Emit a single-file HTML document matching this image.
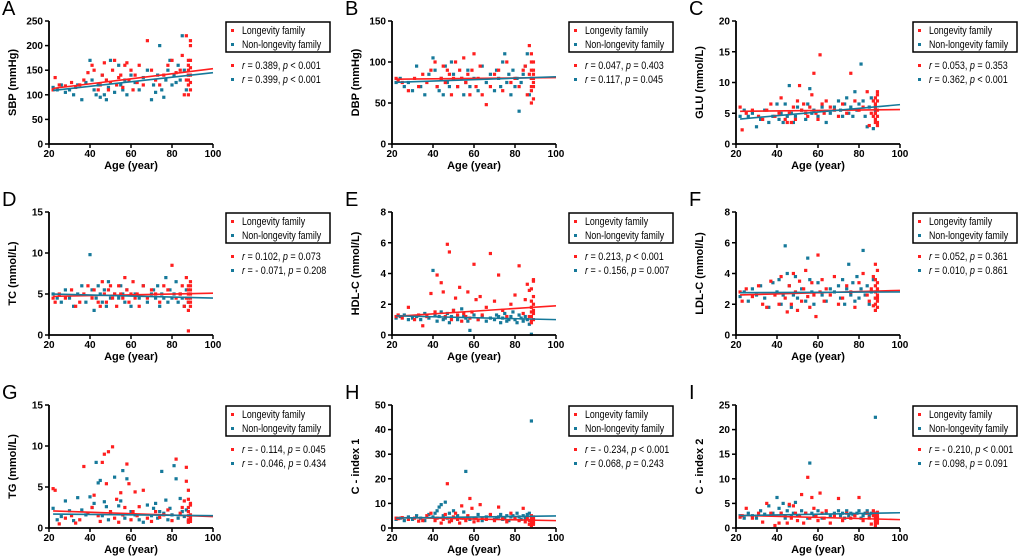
<!DOCTYPE html>
<html><head><meta charset="utf-8"><style>
html,body{margin:0;padding:0;background:#fff;}
svg{display:block;font-family:"Liberation Sans",Arial,sans-serif;}
</style></head><body>
<svg id="fig" width="1020" height="558" viewBox="0 0 1020 558" xmlns="http://www.w3.org/2000/svg"></svg>
<script>
const L_AGE=[22,23,25,28,31,33,35,37,39,41,42,44,45,46,47,48,49,50,51,52,53,54,55,56,57,58,59,60,61,62,63,64,66,68,70,72,74,76,78,80,82,84,85,86,87,87,88,88,88,88,88,88,88,89,89,89,89,89,89,89];
const N_AGE=[22,24,26,28,30,32,34,36,38,40,41,42,43,44,45,46,47,48,49,50,52,54,55,56,57,58,60,62,64,66,68,70,71,72,73,74,75,76,77,78,79,80,81,82,83,84,85,86,87,88];
const X_TICKS=[20,40,60,80,100];
const A_L=[110,135,120,118,125,115,120,130,145,160,150,110,120,140,165,130,110,125,150,170,120,135,140,115,160,165,130,150,110,140,125,160,120,210,150,130,120,140,160,170,145,150,180,100,130,220,100,120,140,150,160,170,130,110,125,140,155,170,200,210];
const A_N=[115,110,120,105,110,100,120,90,125,170,130,110,100,120,95,140,100,90,115,170,105,160,120,110,130,100,140,125,110,135,150,90,120,105,140,200,110,95,130,150,170,120,140,125,160,130,220,150,110,140];
const B_L=[80,78,75,65,80,70,85,75,90,100,70,80,95,75,90,85,60,80,100,70,90,80,105,75,85,60,90,110,70,80,95,60,48,70,85,90,65,100,75,80,70,90,95,60,85,120,50,70,80,90,100,110,65,75,80,90,55,70,85,100];
const B_N=[75,80,70,75,65,95,70,60,85,105,90,70,65,80,60,95,75,70,100,85,70,80,60,75,90,70,80,65,95,75,85,65,90,80,70,100,110,75,85,60,90,70,80,40,75,85,95,110,60,80];
const C_L=[6.0,2.3,5.0,5.5,4.5,4.0,5.5,6.5,4.5,5.0,7.5,4.0,3.5,5.0,3.5,6.0,4.0,7.0,9.5,5.5,6.5,5.0,4.5,6.0,8.0,11.5,5.0,4.0,14.5,6.5,5.0,7.0,6.0,5.5,4.5,6.5,5.0,11.5,7.0,5.5,6.0,8.5,3.0,5.0,7.0,4.5,3.5,5.0,6.0,7.5,4.0,5.0,6.5,8.0,3.0,4.5,5.5,7.0,8.5,3.5];
const C_N=[4.5,5.5,4.5,5.0,2.8,4.0,5.5,3.5,4.5,6.5,4.0,5.0,3.5,6.5,4.5,9.5,5.0,3.5,4.5,6.0,5.5,4.0,6.5,9.0,5.0,5.5,4.5,6.0,3.5,5.0,6.0,7.0,5.5,4.5,6.5,7.5,5.0,6.0,4.5,8.5,5.5,6.5,13.0,7.0,4.5,2.8,6.0,7.5,2.5,5.5];
const D_L=[4.5,4.0,5.0,4.5,5.5,3.5,4.0,5.0,6.0,4.5,5.5,4.0,3.5,6.5,5.0,4.0,5.5,6.0,4.5,5.0,3.5,6.0,5.0,4.5,7.0,5.5,4.0,5.0,6.5,4.5,5.0,3.5,6.0,4.5,5.5,5.0,4.0,6.0,5.5,8.5,4.5,5.0,6.0,3.5,4.5,7.0,0.5,5.0,6.0,4.0,5.5,4.5,3.0,6.5,5.0,4.0,5.5,6.0,3.5,4.5];
const D_N=[5.0,4.5,4.0,5.5,4.5,3.5,5.0,6.0,4.0,9.8,5.5,3.0,4.5,6.0,5.0,4.0,5.5,3.5,6.5,4.5,5.0,4.5,6.0,5.0,4.0,5.5,3.5,5.0,4.5,6.0,4.0,5.0,5.5,4.5,6.0,3.5,5.0,4.5,7.0,4.0,5.5,4.5,5.0,6.5,4.0,5.0,4.5,3.5,5.5,4.0];
const E_L=[1.2,1.3,1.1,1.8,1.0,1.3,0.6,1.2,2.7,1.5,3.9,3.4,2.8,1.2,5.9,5.4,1.0,1.6,2.4,1.3,3.1,0.9,1.4,1.2,2.8,1.1,1.5,4.6,2.3,1.0,2.5,1.3,1.8,5.3,2.2,3.9,1.6,1.2,2.0,2.6,4.5,1.4,2.3,3.3,1.2,2.9,0.8,1.5,2.2,3.0,1.8,1.2,0.9,3.6,2.5,1.4,3.5,1.0,2.0,1.6];
const E_N=[1.1,1.2,1.3,1.0,1.1,1.2,1.0,1.4,1.1,4.2,1.3,0.9,1.2,1.5,1.0,1.1,1.4,0.8,1.2,1.6,1.0,1.7,1.2,1.1,0.9,0.3,1.3,1.0,1.2,0.9,1.1,1.0,1.3,1.2,0.8,1.1,1.4,0.9,1.0,1.2,1.5,1.0,0.8,1.3,1.1,0.9,1.2,1.0,0.7,0.05];
const F_L=[2.8,2.2,3.0,2.5,3.2,2.0,1.8,3.5,2.6,2.0,3.8,2.4,1.5,3.2,2.0,4.0,2.8,1.6,3.5,2.2,3.0,4.2,2.5,1.8,3.4,2.6,1.2,5.2,2.8,3.6,2.2,3.0,2.6,3.8,2.0,2.4,3.2,2.8,1.8,3.4,4.0,2.6,2.2,3.0,1.9,3.8,2.4,4.6,2.0,3.2,1.6,2.8,3.6,2.2,3.0,4.2,1.8,2.6,3.4,2.4];
const F_N=[2.5,2.8,2.2,3.0,2.6,3.2,2.4,1.8,3.4,2.8,3.6,2.0,2.6,5.8,4.0,3.2,1.8,2.6,3.8,2.4,3.0,2.2,5.0,3.6,2.8,2.0,3.4,2.6,2.2,3.0,2.8,3.2,2.4,3.6,2.0,3.0,4.6,2.6,3.4,2.2,3.8,2.4,3.0,5.5,2.6,3.2,2.0,2.8,3.6,2.4];
const G_L=[4.8,4.6,0.5,1.2,1.5,0.6,1.0,7.5,1.8,2.5,4.0,1.5,0.8,8.0,9.0,5.4,9.3,2.0,9.9,1.2,3.5,0.7,4.3,1.6,2.5,7.8,5.4,1.0,2.0,4.4,1.5,2.6,4.6,1.2,0.8,2.0,1.3,1.6,2.2,0.9,8.4,1.8,2.5,3.3,7.4,5.7,4.6,0.7,1.5,2.5,3.5,1.0,2.0,1.2,3.0,0.8,1.6,2.8,1.0,1.4];
const G_N=[2.4,1.0,1.4,3.3,2.1,0.9,3.7,2.2,1.6,3.8,2.5,3.0,8.0,5.5,5.8,1.5,3.2,2.6,1.0,1.8,6.2,2.7,3.3,7.0,1.2,6.0,2.0,1.6,1.0,0.7,2.8,1.5,2.4,3.0,1.2,2.0,6.9,1.8,3.4,1.0,2.4,1.6,7.6,6.0,1.2,3.6,2.0,1.4,2.2,0.8];
const H_L=[4.0,3.8,4.2,3.5,4.0,2.8,3.0,5.0,6.0,3.0,4.0,2.0,3.5,5.5,18.0,2.5,3.0,4.5,6.0,3.5,2.0,9.0,4.0,3.0,5.0,12.0,8.0,2.5,4.0,3.0,9.5,4.0,3.5,5.5,3.0,8.5,4.0,2.5,6.0,4.0,3.0,8.0,2.5,4.0,3.0,1.5,2.0,3.5,5.0,4.0,2.5,3.0,1.0,4.5,2.0,3.5,2.5,1.5,4.0,3.0];
const H_N=[3.5,4.0,3.0,4.5,3.5,5.0,4.0,3.0,5.5,4.5,6.0,7.0,8.5,9.5,5.0,10.5,4.0,6.0,3.5,7.0,5.0,4.0,6.5,23.0,4.5,3.5,4.0,5.5,3.0,4.5,5.0,3.5,4.0,4.5,5.5,3.5,4.0,5.0,3.0,4.5,5.0,4.0,6.0,4.5,3.5,5.0,4.0,5.5,6.0,43.5];
const I_L=[2.2,2.5,4.0,2.0,3.0,1.2,5.0,3.0,0.5,1.0,3.0,2.5,1.0,4.8,2.0,4.5,3.0,1.5,2.5,6.8,1.0,3.0,10.3,2.0,6.2,4.0,2.5,1.5,7.1,3.0,2.0,3.5,1.0,2.5,6.0,1.5,3.0,2.0,2.5,6.2,1.5,3.0,2.0,0.8,2.5,3.5,1.0,2.0,3.0,1.5,2.5,0.5,3.0,1.8,2.2,1.0,2.8,1.5,3.2,2.0];
const I_N=[2.5,2.0,3.0,2.5,2.0,3.5,2.8,4.5,3.0,6.2,4.0,3.0,5.0,2.0,3.5,4.5,2.5,3.0,5.2,2.5,3.5,3.0,2.0,13.2,3.0,2.5,3.5,2.0,3.0,2.5,3.0,3.5,2.5,3.0,2.0,3.5,2.5,3.0,2.8,2.5,3.0,3.5,2.0,2.5,3.0,3.5,2.5,3.0,2.8,22.5];
// fitted line values at age 20 and age 100
const FIT_L=[[112,153],[79,81],[5.3,5.6],[4.7,5.1],[1.2,1.9],[2.6,2.9],[2.1,1.4],[4.3,3.0],[2.6,1.7]];
const FIT_N=[[108,145],[75,82],[4.0,6.4],[5.0,4.5],[1.25,1.0],[2.75,2.8],[1.7,1.5],[4.0,4.9],[2.5,3.1]];
const LETTERS=["A","B","C","D","E","F","G","H","I"];
const YTITLES=["SBP (mmHg)","DBP (mmHg)","GLU (mmol/L)","TC (mmol/L)","HDL-C (mmol/L)","LDL-C (mmol/L)","TG (mmol/L)","C - index 1","C - index 2"];
const YMAX=[250,150,20,15,8,8,15,50,25];
const YSTEP=[50,50,5,5,2,2,5,10,5];
const STAT_R=[["0.389","< 0.001"],["0.047","= 0.403"],["0.053","= 0.353"],["0.102","= 0.073"],["0.213","< 0.001"],["0.052","= 0.361"],["- 0.114","= 0.045"],["- 0.234","< 0.001"],["- 0.210","< 0.001"]];
const STAT_N=[["0.399","< 0.001"],["0.117","= 0.045"],["0.362","< 0.001"],["- 0.071","= 0.208"],["- 0.156","= 0.007"],["0.010","= 0.861"],["- 0.046","= 0.434"],["0.068","= 0.243"],["0.098","= 0.091"]];
const LDATA=[A_L,B_L,C_L,D_L,E_L,F_L,G_L,H_L,I_L];
const NDATA=[A_N,B_N,C_N,D_N,E_N,F_N,G_N,H_N,I_N];

const RED="#ff1f1f", BLUE="#16799a";
const COLX=[49,392,736], ROWY=[21,212,405], PW=164, PH=123;
const NS="http://www.w3.org/2000/svg";
const svg=document.getElementById("fig");
function mk(tag,attrs,parent){const e=document.createElementNS(NS,tag);for(const k in attrs)e.setAttribute(k,attrs[k]);(parent||svg).appendChild(e);return e;}
function squeeze(t,f){const w=t.getComputedTextLength();if(w>0){t.setAttribute("textLength",(w*f).toFixed(1));t.setAttribute("lengthAdjust","spacingAndGlyphs");}}

for(let p=0;p<9;p++){
  const x0=COLX[p%3], top=ROWY[Math.floor(p/3)], bot=top+PH;
  const g=mk("g",{});
  
  
  const xs=a=>x0+(a-20)/80*PW;
  const ys=v=>bot-v/YMAX[p]*PH;
  const lt=mk("text",{x:x0-47,y:top-6,"font-size":20},g);lt.textContent=LETTERS[p];
  
  
  const ptsN=mk("g",{fill:BLUE},g);
  
  
  NDATA[p].forEach((v,i)=>{const r=mk("rect",{x:xs(N_AGE[i])-1.6,y:ys(v)-1.6,width:3.2,height:3.2},ptsN);
    
    });
  const ptsL=mk("g",{fill:RED},g);
  
  
  LDATA[p].forEach((v,i)=>{const r=mk("rect",{x:xs(L_AGE[i])-1.6,y:ys(v)-1.6,width:3.2,height:3.2},ptsL);
    
    });
  const slope=(f)=>(f[1]-f[0])/80;
  const fl=FIT_L[p], fn=FIT_N[p];
  const l1=mk("line",{x1:xs(22),y1:ys(fl[0]+slope(fl)*2),x2:xs(100),y2:ys(fl[1]),stroke:RED,"stroke-width":1.6},g);
  
  
  const l2=mk("line",{x1:xs(22),y1:ys(fn[0]+slope(fn)*2),x2:xs(100),y2:ys(fn[1]),stroke:BLUE,"stroke-width":1.6},g);
  
  
  const ax=mk("path",{d:`M${x0},${top} V${bot} H${x0+PW}`,stroke:"#000","stroke-width":1.8,fill:"none"},g);
  
  
  for(let v=0;v<=YMAX[p]+1e-9;v+=YSTEP[p]){
    mk("line",{x1:x0-4,x2:x0,y1:ys(v),y2:ys(v),stroke:"#000","stroke-width":1.5},g);
    const t=mk("text",{x:x0-6,y:ys(v)+3.5,"font-size":10,"font-weight":"bold","text-anchor":"end"},g);t.textContent=v;
    
    
  }
  X_TICKS.forEach(a=>{
    mk("line",{x1:xs(a),x2:xs(a),y1:bot,y2:bot+4,stroke:"#000","stroke-width":1.5},g);
    const t=mk("text",{x:xs(a),y:bot+13,"font-size":10,"font-weight":"bold","text-anchor":"middle"},g);t.textContent=a;
    
    
  });
  const xt=mk("text",{x:x0+PW/2,y:bot+25,"font-size":11,"font-weight":"bold","text-anchor":"middle"},g);xt.textContent="Age (year)";
  
  
  const yt=mk("text",{x:0,y:0,"font-size":11,"font-weight":"bold","text-anchor":"middle",transform:`translate(${x0-33},${top+PH/2}) rotate(-90)`},g);yt.textContent=YTITLES[p];
  
  
  const lx=x0+177, ly=top+1;
  const lg=mk("g",{},g);
  
  
  mk("rect",{x:lx,y:ly,width:104,height:30,fill:"#fff",stroke:"#000","stroke-width":1.5},lg);
  [["Longevity family",RED],["Non-longevity family",BLUE]].forEach((e,i)=>{
    mk("rect",{x:lx+5,y:ly+7+i*14,width:3,height:3,fill:e[1]},lg);
    const t=mk("text",{x:lx+16,y:ly+12+i*14,"font-size":11},lg);t.textContent=e[0];
    
    
    squeeze(t,0.8);
  });
  [[STAT_R[p],RED],[STAT_N[p],BLUE]].forEach((e,i)=>{
    const yy=top+48+i*14;
    mk("rect",{x:lx+5,y:yy-5,width:3,height:3,fill:e[1]},g);
    const t=mk("text",{x:lx+16,y:yy,"font-size":11},g);
    
    
    const s1=mk("tspan",{"font-style":"italic"},t);s1.textContent="r";
    const s2=mk("tspan",{},t);s2.textContent=" = "+e[0][0]+", ";
    const s3=mk("tspan",{"font-style":"italic"},t);s3.textContent="p";
    const s4=mk("tspan",{},t);s4.textContent=" "+e[0][1];
    squeeze(t,0.82);
  });
}
</script>
</body></html>
